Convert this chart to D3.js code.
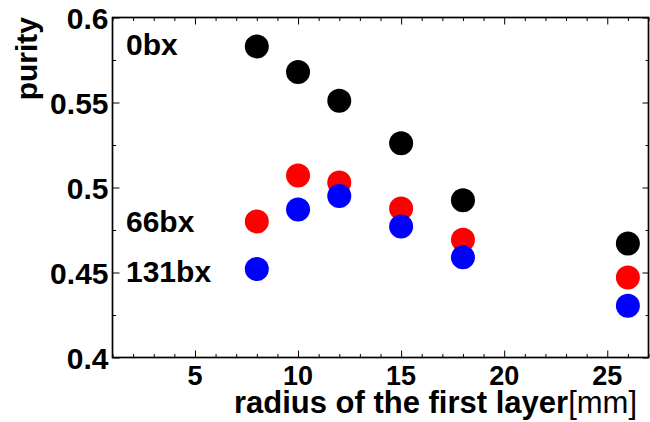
<!DOCTYPE html>
<html>
<head>
<meta charset="utf-8">
<script src="https://cdn.jsdelivr.net/npm/d3@7"></script>
<style>
body { margin: 0; background: #fff; }
text { font-family: "Liberation Sans", Arial, Helvetica, sans-serif; font-weight: bold; }
</style>
</head>
<body>
<div id="chart"></div>
<script>
// radius of the first layer [mm]
var radii = [8, 10, 12, 15, 18, 26];
// purity for each bunch crossing setting
var purity0bx = [0.583, 0.568, 0.551, 0.526, 0.4925, 0.467];
var purity66bx = [0.480, 0.507, 0.503, 0.4877, 0.4692, 0.447];
var purity131bx = [0.452, 0.487, 0.495, 0.477, 0.459, 0.4305];
var seriesNames = ["0bx", "66bx", "131bx"];
var seriesColors = ["#000000", "#ff0000", "#0000ff"];

var xMajor = [5, 10, 15, 20, 25];
var yMajor = [0.4, 0.45, 0.5, 0.55, 0.6];

var width = 650, height = 422;
var frameL = 112.5, frameR = 648.5, frameT = 17.5, frameB = 357.5;

var svg = d3.select("#chart").append("svg")
    .attr("width", width)
    .attr("height", height);

var x = d3.scaleLinear().domain([1, 27]).range([frameL, frameR]);
var y = d3.scaleLinear().domain([0.4, 0.6]).range([frameB, frameT]);

var xMinor = d3.range(1, 28).filter(function(d) { return d % 5 != 0; });
var yMinor = [0.425, 0.475, 0.525, 0.575];

function tickLayer(axis, tx, ty) {
    var g = svg.append("g")
        .attr("transform", "translate(" + tx + "," + ty + ")")
        .call(axis);
    g.select(".domain").remove();
    g.selectAll(".tick line").attr("stroke", "#000").attr("stroke-width", 1);
    return g;
}

// ticks on all four sides, pointing inward
tickLayer(d3.axisBottom(x).tickValues(xMajor).tickSize(-7).tickFormat(""), 0, frameB);
tickLayer(d3.axisBottom(x).tickValues(xMinor).tickSize(-3.5).tickFormat(""), 0, frameB);
tickLayer(d3.axisTop(x).tickValues(xMajor).tickSize(-7).tickFormat(""), 0, frameT);
tickLayer(d3.axisTop(x).tickValues(xMinor).tickSize(-3.5).tickFormat(""), 0, frameT);
tickLayer(d3.axisLeft(y).tickValues(yMajor).tickSize(-7).tickFormat(""), frameL, 0);
tickLayer(d3.axisLeft(y).tickValues(yMinor).tickSize(-3.5).tickFormat(""), frameL, 0);
tickLayer(d3.axisRight(y).tickValues(yMajor).tickSize(-6).tickFormat(""), frameR, 0);
tickLayer(d3.axisRight(y).tickValues(yMinor).tickSize(-3).tickFormat(""), frameR, 0);

// frame
svg.append("rect")
    .attr("x", frameL).attr("y", frameT)
    .attr("width", frameR - frameL).attr("height", frameB - frameT)
    .attr("fill", "none")
    .attr("stroke", "#000")
    .attr("stroke-width", 1.7);

// tick labels
svg.append("g").selectAll("text")
    .data(xMajor)
    .enter().append("text")
    .attr("x", function(d) { return x(d); })
    .attr("y", 384.5)
    .attr("text-anchor", "middle")
    .style("font-size", "27px")
    .text(function(d) { return d; });

svg.append("g").selectAll("text")
    .data(yMajor)
    .enter().append("text")
    .attr("x", 108.5)
    .attr("y", function(d) { return y(d) + 11; })
    .attr("text-anchor", "end")
    .style("font-size", "30px")
    .text(function(d) { return d3.format("~g")(d); });

// axis titles
var xt = svg.append("text")
    .attr("x", 637)
    .attr("y", 413)
    .attr("text-anchor", "end")
    .style("font-size", "31px");
xt.append("tspan").text("radius of the first layer");
xt.append("tspan").style("font-weight", "normal").text("[mm]");

svg.append("text")
    .attr("transform", "translate(37,17) rotate(-90)")
    .attr("text-anchor", "end")
    .style("font-size", "30px")
    .text("purity");

// points
var allSeries = [purity0bx, purity66bx, purity131bx];
allSeries.forEach(function(vals, i) {
    svg.append("g").selectAll("circle")
        .data(vals)
        .enter().append("circle")
        .attr("cx", function(d, j) { return x(radii[j]); })
        .attr("cy", function(d) { return y(d); })
        .attr("r", 12)
        .attr("fill", seriesColors[i]);
});

// series labels
var labelY = [55, 231.5, 282];
svg.append("g").selectAll("text")
    .data(seriesNames)
    .enter().append("text")
    .attr("x", 126)
    .attr("y", function(d, i) { return labelY[i]; })
    .style("font-size", "30px")
    .text(function(d) { return d; });
</script>
</body>
</html>
